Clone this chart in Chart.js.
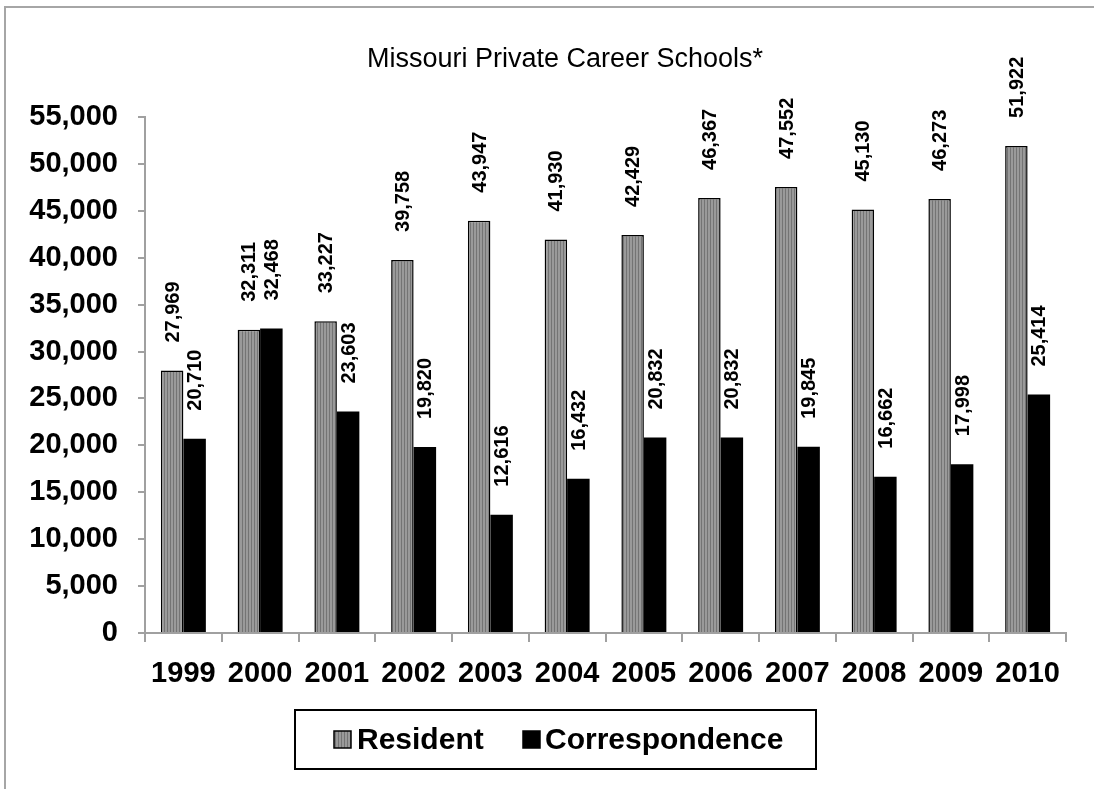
<!DOCTYPE html>
<html>
<head>
<meta charset="utf-8">
<title>Missouri Private Career Schools</title>
<script src="https://cdn.jsdelivr.net/npm/chart.js"></script>
<style>
    html, body { margin: 0; padding: 0; background: #fff; overflow: hidden; }
    .frame { position: absolute; left: 4px; top: 6px; width: 1200px; height: 900px; border: 2px solid #a6a6a6; box-sizing: border-box; }
    .wrap { position: absolute; left: 0; top: 0; width: 1094px; height: 789px; }
</style>
</head>
<body>
<div class="frame"></div>
<div class="wrap"><canvas id="chart"></canvas></div>
<script>
    // Data
    const years = ['1999', '2000', '2001', '2002', '2003', '2004', '2005', '2006', '2007', '2008', '2009', '2010'];
    const resident = [27969, 32311, 33227, 39758, 43947, 41930, 42429, 46367, 47552, 45130, 46273, 51922];
    const correspondence = [20710, 32468, 23603, 19820, 12616, 16432, 20832, 20832, 19845, 16662, 17998, 25414];
    const seriesNames = ['Resident', 'Correspondence'];
    const yMax = 55000;
    const yStep = 5000;

    const FONT = '"Liberation Sans", Arial, sans-serif';
    const fmt = v => v.toLocaleString('en-US');

    // vertical stripe fill like the old Excel pattern
    function stripes() {
        const c = document.createElement('canvas');
        c.width = 3; c.height = 3;
        const g = c.getContext('2d');
        g.fillStyle = '#9a9a9a';
        g.fillRect(0, 0, 3, 3);
        g.fillStyle = '#747474';
        g.fillRect(2, 0, 1, 3);
        return g.createPattern(c, 'repeat');
    }
    const stripeFill = stripes();

    // rotated value labels above each bar
    const barLabels = {
        id: 'barLabels',
        afterDatasetsDraw(chart) {
            const ctx = chart.ctx;
            ctx.save();
            ctx.font = 'bold 20px ' + FONT;
            ctx.fillStyle = '#000';
            ctx.textAlign = 'left';
            ctx.textBaseline = 'middle';
            chart.data.datasets.forEach((ds, i) => {
                chart.getDatasetMeta(i).data.forEach((bar, j) => {
                    ctx.save();
                    ctx.translate(bar.x + 1, bar.y - 28);
                    ctx.rotate(-Math.PI / 2);
                    ctx.fillText(fmt(ds.data[j]), 0, 0);
                    ctx.restore();
                });
            });
            ctx.restore();
        }
    };

    // title + boxed legend
    const decor = {
        id: 'decor',
        afterDraw(chart) {
            const ctx = chart.ctx;
            ctx.save();
            ctx.fillStyle = '#000';
            ctx.font = '27px ' + FONT;
            ctx.textAlign = 'center';
            ctx.textBaseline = 'middle';
            ctx.fillText('Missouri Private Career Schools*', 565, 60);

            ctx.strokeStyle = '#000';
            ctx.lineWidth = 2;
            ctx.strokeRect(295, 710, 521, 59);

            const items = [
                { box: 334, text: 357 },
                { box: 523, text: 545 }
            ];
            ctx.font = 'bold 30px ' + FONT;
            ctx.textAlign = 'left';
            chart.data.datasets.forEach((ds, i) => {
                const it = items[i];
                ctx.fillStyle = ds.backgroundColor;
                ctx.fillRect(it.box, 731, 17, 17);
                ctx.lineWidth = 1.5;
                ctx.strokeStyle = '#000';
                ctx.strokeRect(it.box, 731, 17, 17);
                ctx.fillStyle = '#000';
                ctx.fillText(ds.label, it.text, 741);
            });
            ctx.restore();
        }
    };

    new Chart(document.getElementById('chart'), {
        type: 'bar',
        data: {
            labels: years,
            datasets: [{
                label: seriesNames[0],
                data: resident,
                backgroundColor: stripeFill,
                borderColor: '#000',
                borderWidth: 1.5
            }, {
                label: seriesNames[1],
                data: correspondence,
                backgroundColor: '#000',
                borderColor: '#000',
                borderWidth: 0
            }]
        },
        options: {
            responsive: true,
            maintainAspectRatio: false,
            animation: false,
            categoryPercentage: 0.586,
            barPercentage: 1,
            layout: { padding: { top: 117, right: 28, bottom: 96, left: 0 } },
            plugins: {
                legend: { display: false },
                title: { display: false },
                tooltip: { enabled: false }
            },
            scales: {
                x: {
                    afterFit: s => { s.height = 60; },
                    grid: { drawOnChartArea: false, drawTicks: true, tickLength: 9, color: '#a0a0a0', lineWidth: 2 },
                    border: { display: true, color: '#a0a0a0', width: 2 },
                    ticks: {
                        color: '#000',
                        font: { family: FONT, size: 29, weight: 'bold' },
                        padding: 15,
                        autoSkip: false,
                        maxRotation: 0
                    }
                },
                y: {
                    min: 0,
                    max: yMax,
                    afterFit: s => { s.width = 145; },
                    grid: { drawOnChartArea: false, drawTicks: true, tickLength: 7, color: '#a0a0a0', lineWidth: 2 },
                    border: { display: true, color: '#a0a0a0', width: 2 },
                    ticks: {
                        stepSize: yStep,
                        color: '#000',
                        padding: 20,
                        font: { family: FONT, size: 29, weight: 'bold' },
                        callback: v => fmt(v)
                    }
                }
            }
        },
        plugins: [barLabels, decor]
    });
</script>
</body>
</html>
